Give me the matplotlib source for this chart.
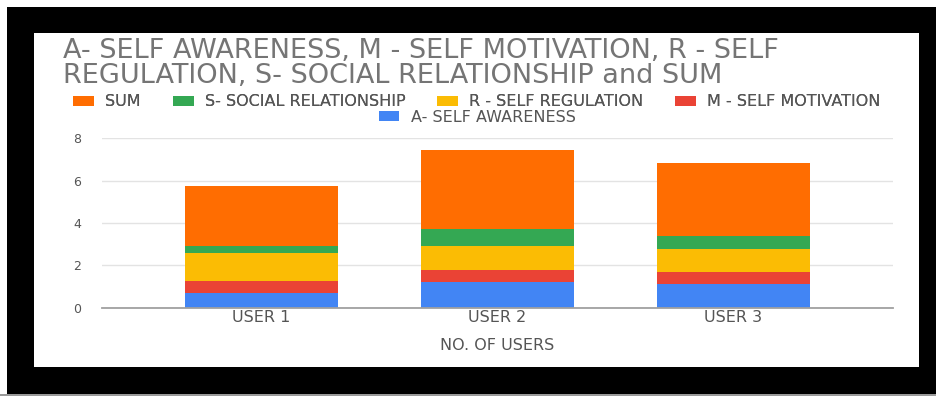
import matplotlib
matplotlib.use("Agg")
import matplotlib.pyplot as plt
from matplotlib.patches import Rectangle
import numpy as np

plt.rcParams['font.family'] = ['DejaVu Sans']

users = ["USER 1", "USER 2", "USER 3"]
series_names = ["A- SELF AWARENESS", "M - SELF MOTIVATION", "R - SELF REGULATION",
                "S- SOCIAL RELATIONSHIP", "SUM"]
a_vals = [0.68, 1.23, 1.12]
m_vals = [0.59, 0.55, 0.58]
r_vals = [1.30, 1.14, 1.05]
s_vals = [0.36, 0.79, 0.63]
sum_vals = [2.82, 3.76, 3.43]
colors = ["#4285f4", "#ea4335", "#fbbc04", "#34a853", "#ff6d01"]
yticks = [0, 2, 4, 6, 8]

W, H = 937, 396
fig = plt.figure(figsize=(W / 100, H / 100), dpi=100)
fig.patch.set_facecolor("white")

def fx(px):
    return px / W

def fy(py):
    return 1 - py / H

# black frame, thin gray bottom strip and white panel
fig.patches.append(Rectangle((fx(0), fy(396)), 1, fy(394) - fy(396),
                             transform=fig.transFigure, facecolor="#9a9a9a", edgecolor="none", zorder=-3))
fig.patches.append(Rectangle((fx(7), fy(394)), fx(937) - fx(7), fy(7) - fy(394),
                             transform=fig.transFigure, facecolor="black", edgecolor="none", zorder=-2))
fig.patches.append(Rectangle((fx(34), fy(367)), fx(919) - fx(34), fy(33) - fy(367),
                             transform=fig.transFigure, facecolor="white", edgecolor="none", zorder=-1))

ax = fig.add_axes([fx(102), fy(307.7), fx(893) - fx(102), fy(138.3) - fy(307.7)])
ax.set_facecolor("none")
x = np.arange(len(users))
all_series = [a_vals, m_vals, r_vals, s_vals, sum_vals]
bottom = np.zeros(len(users))
containers = []
for name, vals, c in zip(series_names, all_series, colors):
    bc = ax.bar(x, vals, width=0.65, bottom=bottom, color=c, label=name, zorder=3)
    containers.append(bc)
    bottom += np.array(vals)

ax.set_xlim(-0.676, 2.676)
ax.set_ylim(0, 8)
ax.set_yticks(yticks)
ax.set_yticklabels([str(t) for t in yticks])
ax.set_xticks(x)
ax.set_xticklabels(users)
ax.grid(axis="y", color="#e3e3e3", linewidth=1, zorder=0)
for sp in ["top", "right", "left"]:
    ax.spines[sp].set_visible(False)
ax.spines["bottom"].set_color("#a0a0a0")
ax.spines["bottom"].set_linewidth(1.3)
ax.spines["bottom"].set_zorder(4)
ax.tick_params(axis="both", length=0, colors="#555555")
ax.tick_params(axis="y", labelsize=9, pad=15)
ax.tick_params(axis="x", labelsize=11.5, pad=2)

fig.text(fx(497), fy(345), "NO. OF USERS", fontsize=11.5, color="#555555",
         ha="center", va="center")

fig.text(fx(63), fy(51), "A- SELF AWARENESS, M - SELF MOTIVATION, R - SELF",
         fontsize=19.5, color="#757575", va="center", ha="left")
fig.text(fx(63), fy(76), "REGULATION, S- SOCIAL RELATIONSHIP and SUM",
         fontsize=19.5, color="#757575", va="center", ha="left")

row1 = [containers[4], containers[3], containers[2], containers[1]]
row1_labels = [series_names[4], series_names[3], series_names[2], series_names[1]]
leg_kw = dict(frameon=False, fontsize=11.5, handlelength=1.3, handleheight=0.6,
              handletextpad=0.7, labelcolor="#555555", borderpad=0, borderaxespad=0)
leg1 = fig.legend(row1, row1_labels, loc="center", bbox_to_anchor=(fx(477), fy(102)),
                  ncol=4, columnspacing=2.0, **leg_kw)
leg2 = fig.legend([containers[0]], [series_names[0]], loc="center",
                  bbox_to_anchor=(fx(477), fy(117)), ncol=1, **leg_kw)
fig.add_artist(leg1)

fig.savefig("out.png", dpi=100, facecolor="white")
